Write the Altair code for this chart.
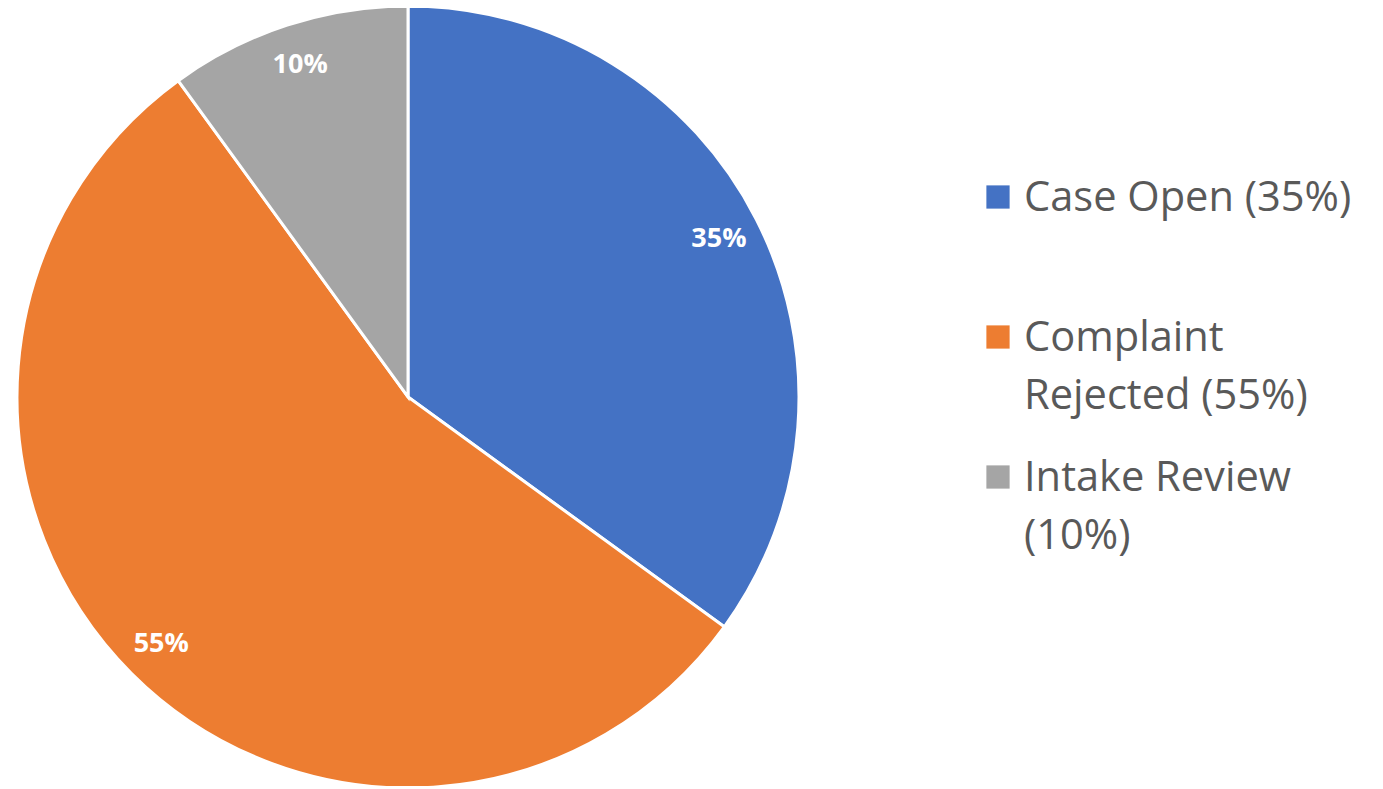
import altair as alt
import pandas as pd

categories = ["Case Open", "Complaint Rejected", "Intake Review"]
values = [35, 55, 10]
slice_labels = ["35%", "55%", "10%"]
legend_labels = ["Case Open (35%)", "Complaint|Rejected (55%)", "Intake Review|(10%)"]
colors = ["#4472C4", "#ED7D31", "#A5A5A5"]

df = pd.DataFrame({
    "category": categories,
    "value": values,
    "label": slice_labels,
    "legend": legend_labels,
    "idx": list(range(len(categories))),
})

color_scale = alt.Scale(domain=categories, range=colors)

base = alt.Chart(df).encode(
    theta=alt.Theta("value:Q", stack=True),
    order=alt.Order("idx:Q"),
)

arcs = base.mark_arc(outerRadius=391, stroke="white", strokeWidth=3, clip=True).encode(
    color=alt.Color("category:N", scale=color_scale, legend=None)
)

texts = base.mark_text(
    radius=349, fontSize=27, fontWeight="bold", font="Open Sans", color="white",
    baseline="middle", align="center"
).encode(text="label:N")

pie = alt.layer(arcs, texts).properties(width=800, height=778)

leg_base = alt.Chart(df).encode(
    y=alt.Y("category:N", sort=categories, axis=None,
            scale=alt.Scale(type="point", range=[189, 469], padding=0)),
)

squares = leg_base.mark_square(size=540, opacity=1).encode(
    x=alt.value(190),
    color=alt.Color("category:N", scale=color_scale, legend=None),
)

leg_text = leg_base.mark_text(
    align="left", baseline="alphabetic", dy=14, fontSize=41.6, font="Open Sans",
    color="#595959", lineBreak="|", lineHeight=58
).encode(x=alt.value(216), text="legend:N")

legend = alt.layer(squares, leg_text).properties(width=560, height=778)

chart = alt.hconcat(pie, legend, spacing=0).properties(padding=0).configure_view(stroke=None)

chart.save("out.html", embed_options={"renderer": "svg", "actions": False})
